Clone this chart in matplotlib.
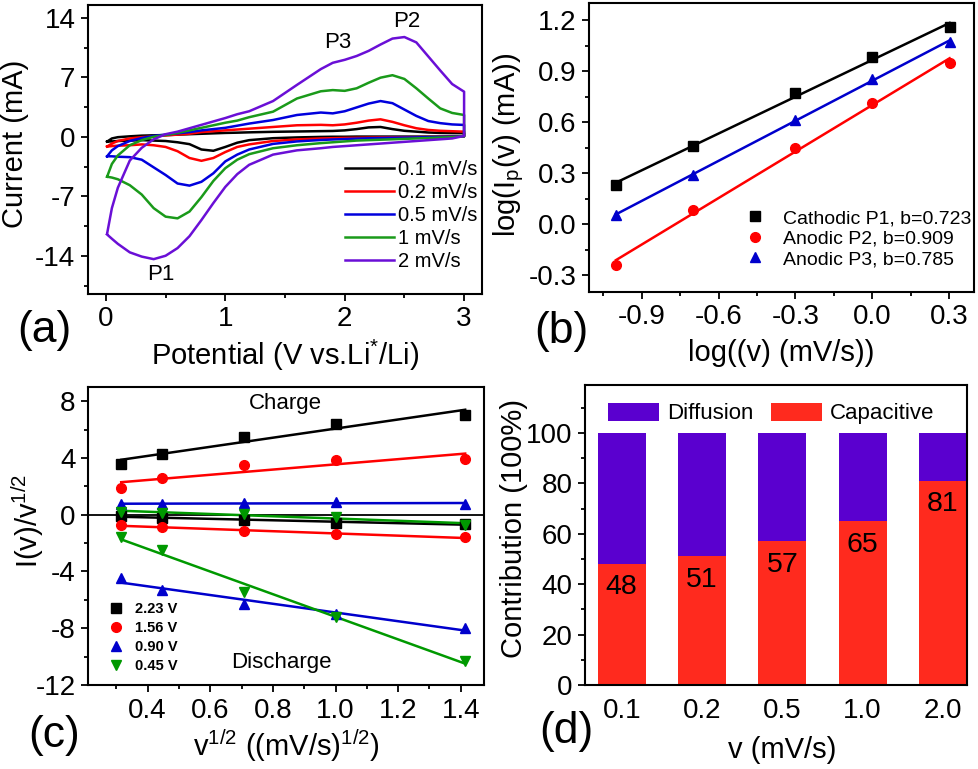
import matplotlib
matplotlib.use("Agg")
import matplotlib.pyplot as plt
import numpy as np
from matplotlib.ticker import MultipleLocator, FixedLocator

plt.rcParams['font.family'] = ['Liberation Sans', 'DejaVu Sans']
plt.rcParams['mathtext.fontset'] = 'custom'
plt.rcParams['mathtext.rm'] = 'Liberation Sans'
plt.rcParams['mathtext.it'] = 'Liberation Sans:italic'
plt.rcParams['axes.unicode_minus'] = False

# ---------------- data: (a) CV curves ----------------
potential = [0.01, 0.05, 0.1, 0.2, 0.3, 0.4, 0.5, 0.6, 0.7, 0.8, 0.9, 1.0, 1.1, 1.2,
             1.4, 1.6, 1.8, 1.9, 2.0, 2.1, 2.2, 2.3, 2.4, 2.5, 2.6, 2.7, 2.8, 2.9, 3.0]
cv_labels = ['0.1 mV/s', '0.2 mV/s', '0.5 mV/s', '1 mV/s', '2 mV/s']
cv_colors = ['#000000', '#ff0000', '#0000dd', '#1a9a1a', '#6a0fd6']

anodic_01 = [-0.57, -0.2, -0.05, 0.05, 0.13, 0.17, 0.2, 0.25, 0.3, 0.35, 0.4, 0.45, 0.48, 0.52,
             0.58, 0.62, 0.66, 0.68, 0.75, 0.9, 1.1, 1.15, 0.9, 0.7, 0.6, 0.5, 0.45, 0.43, 0.42]
cathodic_01 = [-0.57, -0.55, -0.5, -0.45, -0.4, -0.45, -0.5, -0.65, -0.87, -1.5, -1.65, -1.2, -0.7, -0.4,
               -0.17, -0.08, -0.02, 0.0, 0.0, 0.02, 0.02, 0.02, 0.02, 0.02, 0.02, 0.02, 0.02, 0.03, 0.05]
anodic_02 = [-1.15, -0.8, -0.5, -0.2, -0.05, 0.05, 0.15, 0.25, 0.35, 0.55, 0.65, 0.75, 0.85, 0.95,
             1.15, 1.35, 1.4, 1.35, 1.45, 1.65, 1.9, 2.05, 1.75, 1.35, 1.0, 0.8, 0.7, 0.65, 0.6]
cathodic_02 = [-1.15, -1.1, -1.05, -1.0, -0.9, -1.0, -1.2, -1.7, -2.5, -2.83, -2.5, -1.8, -1.2, -0.9,
               -0.5, -0.32, -0.2, -0.17, -0.14, -0.12, -0.1, -0.08, -0.07, -0.06, -0.05, -0.03, -0.02, 0.0, 0.05]
anodic_05 = [-2.3, -1.6, -1.1, -0.5, -0.15, 0.1, 0.25, 0.4, 0.55, 0.75, 0.9, 1.05, 1.3, 1.55,
             1.97, 2.56, 2.85, 2.75, 3.0, 3.45, 3.9, 4.2, 3.95, 3.2, 2.45, 1.85, 1.6, 1.45, 1.39]
cathodic_05 = [-2.3, -2.3, -2.35, -2.4, -2.7, -3.6, -4.5, -5.5, -5.75, -5.3, -4.3, -2.9, -2.1, -1.5,
               -0.84, -0.55, -0.38, -0.32, -0.27, -0.22, -0.18, -0.15, -0.12, -0.1, -0.08, -0.05, -0.02, 0.0, 0.05]
anodic_1 = [-4.7, -3.2, -2.2, -1.0, -0.4, 0.0, 0.2, 0.45, 0.75, 1.05, 1.35, 1.65, 1.9, 2.3,
            2.95, 4.5, 5.35, 5.49, 5.4, 5.7, 6.35, 6.95, 7.24, 6.8, 5.7, 4.5, 3.34, 2.8, 2.56]
cathodic_1 = [-4.7, -4.8, -5.0, -5.7, -6.8, -8.4, -9.4, -9.6, -8.8, -7.1, -5.2, -3.7, -2.7, -2.05,
              -1.35, -1.0, -0.75, -0.65, -0.55, -0.45, -0.4, -0.35, -0.3, -0.25, -0.2, -0.15, -0.1, -0.05, 0.05]
anodic_2 = [-11.4, -8.4, -6.0, -2.8, -1.3, -0.3, 0.3, 0.6, 1.0, 1.4, 1.8, 2.2, 2.65, 3.0,
            4.2, 6.1, 7.96, 8.7, 9.05, 9.5, 10.1, 10.85, 11.55, 11.73, 11.1, 9.45, 7.8, 6.2, 5.3]
cathodic_2 = [-11.5, -12.0, -12.6, -13.6, -14.1, -14.4, -14.0, -13.1, -11.7, -9.8, -7.8, -5.9, -4.4, -3.3,
              -2.1, -1.6, -1.35, -1.2, -1.1, -1.0, -0.9, -0.8, -0.7, -0.6, -0.5, -0.4, -0.3, -0.2, 0.1]
anodic_all = [anodic_01, anodic_02, anodic_05, anodic_1, anodic_2]
cathodic_all = [cathodic_01, cathodic_02, cathodic_05, cathodic_1, cathodic_2]

# ---------------- data: (b) log-log ----------------
log_v = [-1.0, -0.699, -0.301, 0.0, 0.301]
log_ip_p1 = [0.23, 0.46, 0.77, 0.98, 1.16]
log_ip_p2 = [-0.24, 0.08, 0.45, 0.71, 0.95]
log_ip_p3 = [0.055, 0.29, 0.61, 0.855, 1.07]
b_labels = ['Cathodic P1, b=0.723', 'Anodic P2, b=0.909', 'Anodic P3, b=0.785']

# ---------------- data: (c) I/v^1/2 ----------------
sqrt_v = [0.316, 0.447, 0.707, 1.0, 1.414]
c_labels = ['2.23 V', '1.56 V', '0.90 V', '0.45 V']
charge_223 = [3.54, 4.25, 5.51, 6.4, 7.06]
charge_156 = [1.85, 2.56, 3.47, 3.87, 3.94]
charge_090 = [0.73, 0.75, 0.85, 0.9, 0.75]
charge_045 = [0.2, 0.15, 0.05, -0.15, -0.7]
discharge_223 = [-0.1, -0.2, -0.4, -0.55, -0.65]
discharge_156 = [-0.73, -0.87, -1.15, -1.39, -1.58]
discharge_090 = [-4.44, -5.33, -6.27, -7.0, -7.98]
discharge_045 = [-1.58, -2.51, -5.47, -7.21, -10.3]

# ---------------- data: (d) contributions ----------------
rates_d = ['0.1', '0.2', '0.5', '1.0', '2.0']
capacitive = [48, 51, 57, 65, 81]
diffusion = [52, 49, 43, 35, 19]

W, H = 979, 769
fig = plt.figure(figsize=(W / 100, H / 100), dpi=100)

def ax_px(l, r, t, b):
    return fig.add_axes([l / W, 1 - b / H, (r - l) / W, (b - t) / H])

TICK_FS = 20
LAB_FS = 21

def style(ax):
    for s in ax.spines.values():
        s.set_linewidth(1.5)
    ax.tick_params(which='both', direction='out', width=1.3, labelsize=TICK_FS,
                   top=False, right=False, pad=4)
    ax.tick_params(which='major', length=5)
    ax.tick_params(which='minor', length=3)

# ---------------- (a) ----------------
axa = ax_px(88, 482, 5, 294)
for lab, col, an, ca in zip(cv_labels, cv_colors, anodic_all, cathodic_all):
    E = list(potential) + list(potential[::-1])
    I = list(an) + list(ca[::-1])
    axa.plot(E, I, color=col, lw=1.8, label=lab)
axa.set_xlim(-0.15, 3.15)
axa.set_ylim(-18.5, 15.5)
axa.set_xticks([0, 1, 2, 3])
axa.set_yticks([-14, -7, 0, 7, 14])
axa.xaxis.set_minor_locator(MultipleLocator(0.5))
axa.yaxis.set_minor_locator(MultipleLocator(3.5))
style(axa)
axa.set_xlabel('Potential (V vs.Li$^{*}$/Li)', fontsize=LAB_FS, va='center')
axa.xaxis.set_label_coords(0.5, -(355 - 294) / 289)
axa.set_ylabel('Current (mA)', fontsize=LAB_FS, va='center')
axa.yaxis.set_label_coords(-(88 - 15) / 394, 0.52)
axa.text(0.46, -16.2, 'P1', fontsize=16, ha='center', va='center')
axa.text(1.94, 11.1, 'P3', fontsize=16, ha='center', va='center')
axa.text(2.52, 13.6, 'P2', fontsize=16, ha='center', va='center')
axa.legend(loc='lower left', bbox_to_anchor=(0.612, 0.025), frameon=False, fontsize=14.5,
           handlelength=2.4, handletextpad=0.2, labelspacing=0.2, borderpad=0.3)

# ---------------- (b) ----------------
axb = ax_px(589, 974, 3, 292)
b_series = [log_ip_p1, log_ip_p2, log_ip_p3]
b_colors = ['#000000', '#ff0000', '#0000cc']
b_markers = ['s', 'o', '^']
for ys, col, mk, lab in zip(b_series, b_colors, b_markers, b_labels):
    axb.plot(log_v, ys, ls='none', marker=mk, color=col, ms=7, label=lab)
    p = np.polyfit(log_v, ys, 1)
    xx = np.array([log_v[0], log_v[-1]])
    axb.plot(xx, np.polyval(p, xx), color=col, lw=1.8)
axb.set_xlim(-1.105, 0.396)
axb.set_ylim(-0.4, 1.3)
axb.set_xticks([-0.9, -0.6, -0.3, 0.0, 0.3])
axb.set_xticklabels(['-0.9', '-0.6', '-0.3', '0.0', '0.3'])
axb.set_yticks([-0.3, 0.0, 0.3, 0.6, 0.9, 1.2])
axb.set_yticklabels(['-0.3', '0.0', '0.3', '0.6', '0.9', '1.2'])
axb.xaxis.set_minor_locator(MultipleLocator(0.15))
axb.yaxis.set_minor_locator(MultipleLocator(0.15))
style(axb)
axb.set_xlabel('log((v) (mV/s))', fontsize=LAB_FS, va='center')
axb.xaxis.set_label_coords(0.5, -(353 - 292) / 289)
axb.set_ylabel('log(I$_\\mathrm{p}$(v) (mA))', fontsize=LAB_FS, va='center')
axb.yaxis.set_label_coords(-(589 - 509) / 385, 0.51)
axb.legend(loc='lower left', bbox_to_anchor=(0.357, 0.035), frameon=False, fontsize=14,
           handlelength=1.5, handletextpad=0.7, labelspacing=0.15, borderpad=0.2)

# ---------------- (c) ----------------
axc = ax_px(88, 484, 387, 685)
c_colors = ['#000000', '#ff0000', '#0000cc', '#009900']
c_markers = ['s', 'o', '^', 'v']
c_charge = [charge_223, charge_156, charge_090, charge_045]
c_discharge = [discharge_223, discharge_156, discharge_090, discharge_045]
axc.axhline(0, color='black', lw=1.3, zorder=1)
for ch, dc, col, mk, lab in zip(c_charge, c_discharge, c_colors, c_markers, c_labels):
    for k, ys in enumerate([ch, dc]):
        axc.plot(sqrt_v, ys, ls='none', marker=mk, color=col, ms=7,
                 label=lab if k == 0 else None, zorder=3)
        p = np.polyfit(sqrt_v, ys, 1)
        xx = np.array([sqrt_v[0], sqrt_v[-1]])
        axc.plot(xx, np.polyval(p, xx), color=col, lw=1.8, zorder=2)
axc.set_xlim(0.21, 1.474)
axc.set_ylim(-12, 9)
axc.set_xticks([0.4, 0.6, 0.8, 1.0, 1.2, 1.4])
axc.set_xticklabels(['0.4', '0.6', '0.8', '1.0', '1.2', '1.4'])
axc.set_yticks([-12, -8, -4, 0, 4, 8])
axc.xaxis.set_minor_locator(MultipleLocator(0.1))
axc.yaxis.set_minor_locator(MultipleLocator(2))
style(axc)
axc.text(0.839, 7.84, 'Charge', fontsize=16, ha='center', va='center')
axc.text(0.828, -10.38, 'Discharge', fontsize=16, ha='center', va='center')
axc.set_xlabel('v$^{1/2}$ ((mV/s)$^{1/2}$)', fontsize=LAB_FS, va='center')
axc.xaxis.set_label_coords(0.5, -(746 - 685) / 298)
axc.set_ylabel('I(v)/v$^{1/2}$', fontsize=LAB_FS, va='center')
axc.yaxis.set_label_coords(-(88 - 28) / 396, 0.55)
axc.legend(loc='lower left', bbox_to_anchor=(0.02, 0.0), frameon=False,
           prop={'size': 10.5, 'weight': 'bold'}, handlelength=1.2, handletextpad=0.7,
           labelspacing=0.35, borderpad=0.3)

# ---------------- (d) ----------------
axd = ax_px(585, 967, 385, 685)
xpos = np.arange(len(rates_d))
red = '#ff2a1e'
purple = '#5a00cf'
axd.bar(xpos, diffusion, width=0.6, bottom=capacitive, color=purple, label='Diffusion')
axd.bar(xpos, capacitive, width=0.6, color=red, label='Capacitive')
for xp, v in zip(xpos, capacitive):
    axd.text(xp, v - 9.3, str(v), fontsize=20.5, ha='center', va='center')
axd.set_xlim(-0.457, 4.3)
axd.set_ylim(0, 119)
axd.set_xticks(xpos)
axd.set_xticklabels(rates_d)
axd.set_yticks([0, 20, 40, 60, 80, 100])
axd.yaxis.set_minor_locator(FixedLocator([10, 30, 50, 70, 90, 110]))
style(axd)
axd.tick_params(axis='x', length=0, pad=9)
axd.set_xlabel('v (mV/s)', fontsize=LAB_FS, va='center')
axd.xaxis.set_label_coords((782 - 585) / 382, -(750 - 685) / 300)
axd.set_ylabel('Contribution (100%)', fontsize=LAB_FS, va='center')
axd.yaxis.set_label_coords(-(585 - 514) / 382, 0.52)
axd.legend(loc='upper left', bbox_to_anchor=(0.025, 0.985), ncol=2, frameon=False, fontsize=16,
           handlelength=2.3, handleheight=0.85, handletextpad=0.35, columnspacing=0.8, borderpad=0.1)

# ---------------- panel labels ----------------
for s, (x, y) in zip(['(a)', '(b)', '(c)', '(d)'], [(44, 330), (561, 331), (54, 736), (566, 732)]):
    fig.text(x / W, 1 - y / H, s, fontsize=32, ha='center', va='center')

fig.savefig('out.png', dpi=100)
